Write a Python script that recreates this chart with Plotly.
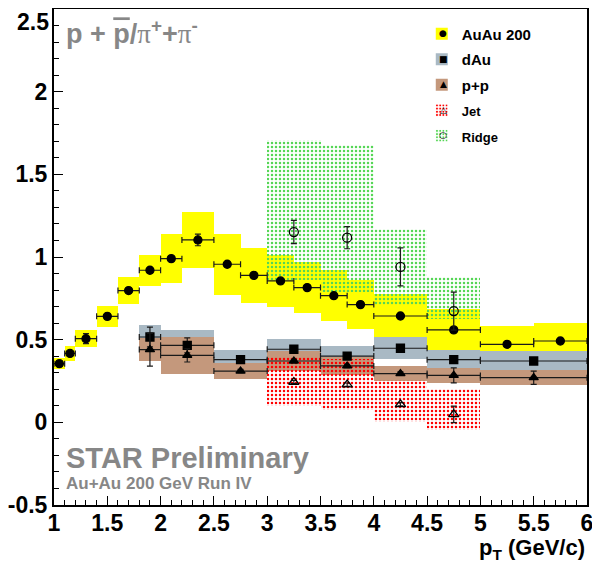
import plotly.graph_objects as go

# ---------------- data ----------------
# Au+Au 200 GeV (filled circles, yellow systematic boxes)
auau_lo = [1.0, 1.1, 1.2, 1.4, 1.6, 1.8, 2.0, 2.2, 2.5, 2.75, 3.0, 3.25, 3.5, 3.75, 4.0, 4.5, 5.0, 5.5]
auau_hi = [1.1, 1.2, 1.4, 1.6, 1.8, 2.0, 2.2, 2.5, 2.75, 3.0, 3.25, 3.5, 3.75, 4.0, 4.5, 5.0, 5.5, 6.0]
auau_val = [0.355, 0.417, 0.506, 0.641, 0.797, 0.920, 0.990, 1.103, 0.956, 0.889, 0.855, 0.815, 0.766, 0.712, 0.643, 0.559, 0.472, 0.492]
auau_stat = [0.01, 0.01, 0.03, 0.01, 0.01, 0.01, 0.01, 0.035, 0.01, 0.01, 0.01, 0.01, 0.01, 0.01, 0.01, 0.01, 0.01, 0.01]
auau_sys = [0.035, 0.045, 0.05, 0.064, 0.08, 0.094, 0.15, 0.17, 0.183, 0.165, 0.16, 0.154, 0.155, 0.147, 0.133, 0.128, 0.108, 0.11]

# d+Au (filled squares, grey-blue boxes) and p+p (filled triangles, brown boxes)
da_lo = [1.8, 2.0, 2.5, 3.0, 3.5, 4.0, 4.5, 5.0]
da_hi = [2.0, 2.5, 3.0, 3.5, 4.0, 4.5, 5.0, 6.0]
dau_val = [0.516, 0.466, 0.379, 0.442, 0.401, 0.448, 0.379, 0.371]
dau_stat = [0.06, 0.045, 0.01, 0.01, 0.01, 0.01, 0.01, 0.02]
dau_sys = [0.075, 0.09, 0.058, 0.061, 0.058, 0.067, 0.057, 0.059]

pp_val = [0.440, 0.405, 0.310, 0.371, 0.341, 0.295, 0.284, 0.270]
pp_stat = [0.10, 0.04, 0.01, 0.01, 0.01, 0.01, 0.045, 0.04]
pp_sys = [0.07, 0.11, 0.048, 0.058, 0.053, 0.044, 0.046, 0.044]

# Jet (open triangles, red dotted boxes) and Ridge (open circles, green dotted boxes)
jr_lo = [3.0, 3.5, 4.0, 4.5]
jr_hi = [3.5, 4.0, 4.5, 5.0]
jet_val = [0.244, 0.228, 0.109, 0.048]
jet_stat = [0.01, 0.01, 0.01, 0.05]
jet_box_lo = [0.097, 0.073, 0.002, -0.044]
jet_box_hi = [0.395, 0.385, 0.254, 0.204]

ridge_val = [1.151, 1.117, 0.940, 0.673]
ridge_stat = [0.07, 0.067, 0.115, 0.115]
ridge_box_lo = [0.859, 0.788, 0.708, 0.627]
ridge_box_hi = [1.706, 1.676, 1.168, 0.879]

legend_names = ["AuAu 200", "dAu", "p+p", "Jet", "Ridge"]
legend_glyphs = ["●", "■", "▲", "△", "○"]

x_ticks = [1, 1.5, 2, 2.5, 3, 3.5, 4, 4.5, 5, 5.5, 6]
x_ticklabels = ["1", "1.5", "2", "2.5", "3", "3.5", "4", "4.5", "5", "5.5", "6"]
y_ticks = [-0.5, 0, 0.5, 1, 1.5, 2, 2.5]
y_ticklabels = ["-0.5", "0", "0.5", "1", "1.5", "2", "2.5"]

# ---------------- helpers ----------------
def centers(lo, hi):
    return [(a + b) / 2 for a, b in zip(lo, hi)]

def widths(lo, hi):
    return [b - a for a, b in zip(lo, hi)]

def halfw(lo, hi):
    return [(b - a) / 2 for a, b in zip(lo, hi)]

FONT = "Liberation Sans, Arial, sans-serif"
GRAY = "#878787"
EBAR = "#1a1a1a"

fig = go.Figure()

def add_box(name, group, lo, hi, ylo, yhi, color, pattern=None):
    marker = dict(color=color, line=dict(width=0))
    if pattern is not None:
        marker = dict(color="rgba(0,0,0,0)", line=dict(width=0),
                      pattern=dict(shape=".", fgcolor=pattern, bgcolor="rgba(0,0,0,0)",
                                   size=4, solidity=0.3, fillmode="replace"))
    fig.add_trace(go.Bar(
        x=centers(lo, hi), y=[b - a for a, b in zip(ylo, yhi)], base=ylo,
        width=widths(lo, hi), marker=marker, name=name, legendgroup=group,
        hoverinfo="skip", showlegend=True))

# systematic boxes
add_box(legend_names[0], "auau", auau_lo, auau_hi,
        [v - s for v, s in zip(auau_val, auau_sys)],
        [v + s for v, s in zip(auau_val, auau_sys)], "#ffff00")
add_box(legend_names[1], "dau", da_lo, da_hi,
        [v - s for v, s in zip(dau_val, dau_sys)],
        [v + s for v, s in zip(dau_val, dau_sys)], "#a9b9c4")
add_box(legend_names[2], "pp", da_lo, da_hi,
        [v - s for v, s in zip(pp_val, pp_sys)],
        [v + s for v, s in zip(pp_val, pp_sys)], "#c4987c")
add_box("<span style='font-size:13px'>%s</span>" % legend_names[3], "jet", jr_lo, jr_hi,
        jet_box_lo, jet_box_hi, None, pattern="#ff0000")
add_box("<span style='font-size:13px'>%s</span>" % legend_names[4], "ridge", jr_lo, jr_hi,
        ridge_box_lo, ridge_box_hi, None, pattern="#55d655")

def add_points(group, lo, hi, vals, stat, symbol, size, xerr=True):
    ex = dict(type="data", array=halfw(lo, hi), color=EBAR, thickness=1.2, width=3) if xerr else None
    fig.add_trace(go.Scatter(
        x=centers(lo, hi), y=vals, mode="markers",
        marker=dict(symbol=symbol, size=size, color="black",
                    line=dict(color="black", width=1.3)),
        error_x=ex,
        error_y=dict(type="data", array=stat, color=EBAR, thickness=1.2, width=3),
        legendgroup=group, showlegend=False, hoverinfo="skip"))

add_points("auau", auau_lo, auau_hi, auau_val, auau_stat, "circle", 8)
add_points("dau", da_lo, da_hi, dau_val, dau_stat, "square", 8)
add_points("pp", da_lo, da_hi, pp_val, pp_stat, "triangle-up", 8)
add_points("jet", jr_lo, jr_hi, jet_val, jet_stat, "triangle-up-open", 9, xerr=False)
add_points("ridge", jr_lo, jr_hi, ridge_val, ridge_stat, "circle-open", 9, xerr=False)

TICKFONT = dict(family=FONT, size=23, color="black", weight="bold")
axis_common = dict(
    showgrid=False, zeroline=False, showline=True, linecolor="black", linewidth=2,
    mirror=True, ticks="inside", ticklen=9, tickwidth=1.2, tickcolor="black",
    automargin=False, ticklabeloverflow="allow", tickfont=TICKFONT,
    minor=dict(ticks="inside", ticklen=5, tickwidth=1, tickcolor="black", dtick=0.1),
)

# page body has an 8px margin: figure sized so that it ends at the window edge
OFF = 8
W, H = 600 - OFF, 569 - OFF
L, R, T, B = 46, 13, 1, 64
PW, PH = W - L - R, H - T - B

# the top tick label sits at the page edge; it is drawn as an annotation just inside
y_ticktext = y_ticklabels[:-1] + [""]

fig.update_layout(
    width=W, height=H,
    margin=dict(l=L, r=R, t=T, b=B, autoexpand=False),
    paper_bgcolor="white", plot_bgcolor="white",
    barmode="overlay", bargap=0,
    showlegend=True,
    legend=dict(x=0.69, y=0.983, xanchor="left", yanchor="top",
                bgcolor="rgba(0,0,0,0)", borderwidth=0, tracegroupgap=3,
                font=dict(family=FONT, size=15, color="black", weight="bold")),
    xaxis=dict(range=[1, 6], tickvals=x_ticks, ticktext=x_ticklabels,
               ticklabelstandoff=-4, **axis_common),
    yaxis=dict(range=[-0.5, 2.5], tickvals=y_ticks, ticktext=y_ticktext,
               ticklabelstandoff=0, **axis_common),
)

def screen_to_paper(sx, sy):
    # screen pixel (in the 600x569 window) -> paper coordinates
    fx, fy = sx - OFF, sy - OFF
    return (fx - L) / PW, (H - B - fy) / PH

annotations = [
    dict(text="p + <span style='text-decoration:overline'>p</span>/<span style='font-family:Liberation Serif;font-weight:normal'>π</span><sup>+</sup>+<span style='font-family:Liberation Serif;font-weight:normal'>π</span><sup>-</sup>",
         x=0.019, y=0.954, xanchor="left", yanchor="middle",
         font=dict(family=FONT, size=27, color=GRAY, weight="bold")),
    dict(text="STAR Preliminary", x=0.019, y=0.095, xanchor="left", yanchor="middle",
         font=dict(family=FONT, size=29, color=GRAY, weight="bold")),
    dict(text="Au+Au 200 GeV Run IV", x=0.019, y=0.044, xanchor="left", yanchor="middle",
         font=dict(family=FONT, size=17, color=GRAY, weight="bold")),
]
ax_x, ax_y = screen_to_paper(587, 549)
annotations.append(dict(text="p<sub>T</sub> (GeV/c)", x=ax_x, y=ax_y, xanchor="right",
                        yanchor="middle",
                        font=dict(family=FONT, size=22, color="black", weight="bold")))
tx, ty = screen_to_paper(50, 8)
annotations.append(dict(text=y_ticklabels[-1], x=tx, y=ty, xanchor="right", yanchor="top",
                        font=TICKFONT, borderpad=0))
# marker glyphs drawn on the legend swatches
glyph_rows = [33, 58.5, 84, 109.5, 135]
for g, row in zip(legend_glyphs, glyph_rows):
    gx, gy = screen_to_paper(443, row)
    annotations.append(dict(text=g, x=gx, y=gy, xanchor="center", yanchor="middle",
                            font=dict(family="DejaVu Sans", size=9, color="black")))
for a in annotations:
    a.update(xref="paper", yref="paper", showarrow=False)
    fig.add_annotation(**a)

fig.write_html("out.html")
